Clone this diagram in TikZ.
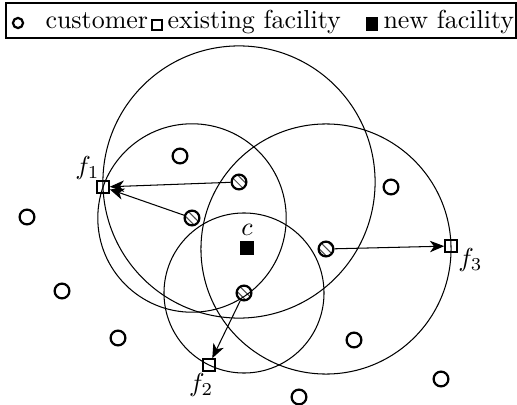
\documentclass[tikz,border=0pt]{standalone}
\usetikzlibrary{arrows.meta,calc,patterns}

\begin{document}
\begin{tikzpicture}[
    x=0.385pt, y=-0.385pt,
    customer/.style={circle, draw, line width=0.85pt, minimum size=5.7pt, inner sep=0pt},
    served customer/.style={customer, pattern=north west lines, pattern color=black!70},
    facility/.style={rectangle, draw, line width=0.8pt, minimum size=4.4pt, inner sep=0pt},
    new facility/.style={rectangle, draw, fill, minimum size=4.7pt, inner sep=0pt},
    coverage/.style={thin},
    assignment/.style={-{Stealth[length=5.5pt,width=4.4pt,inset=1.6pt]}, thin},
    legend text/.style={anchor=base west, inner sep=0pt}
]
\useasboundingbox (0,0) rectangle (517,405);

% Legend
\draw (6,3) rectangle (516,38);
\node[customer, minimum size=3.9pt] (lcust) at (18,23) {};
\node[legend text] (tcust) at (45,28) {customer};
\node[facility, minimum size=3.5pt] (lfac) at (157,25) {};
\node[legend text] (tfac) at (167,28) {existing facility};
\node[new facility, minimum width=3.9pt, minimum height=4.7pt] (lnew) at (372,24) {};
\node[legend text] (tnew) at (383,28) {new facility};

% Facilities
\node[facility, label={[inner sep=0pt, xshift=1.5pt]above left:$f_1$}] (f1) at (103,187) {};
\node[facility, label={[inner sep=0.5pt, xshift=-3pt]below:$f_2$}] (f2) at (209,365) {};
\node[facility, label={[inner sep=0pt, yshift=2pt]below right:$f_3$}] (f3) at (451,246) {};
\node[new facility, label={[inner sep=2pt]above:$c$}] (c) at (247,248) {};

% Customers served by c
\node[served customer] (h1) at (239,182) {};
\node[served customer] (h2) at (192,218) {};
\node[served customer] (h3) at (326,249) {};
\node[served customer] (h4) at (244,293) {};

% Other customers
\node[customer] (u1) at (180,156) {};
\node[customer] (u2) at (391,187) {};
\node[customer] (u3) at (27,217) {};
\node[customer] (u4) at (62,291) {};
\node[customer] (u5) at (118,338) {};
\node[customer] (u6) at (354,340) {};
\node[customer] (u7) at (441,379) {};
\node[customer] (u8) at (299,397) {};

% Circles through the current facility
\draw[coverage] let \p1=($(h1)-(f1)$), \n1={veclen(\x1,\y1)} in (h1) circle (\n1);
\draw[coverage] let \p1=($(h2)-(f1)$), \n1={veclen(\x1,\y1)} in (h2) circle (\n1);
\draw[coverage] let \p1=($(h3)-(f3)$), \n1={veclen(\x1,\y1)} in (h3) circle (\n1);
\draw[coverage] let \p1=($(h4)-(f2)$), \n1={veclen(\x1,\y1)} in (h4) circle (\n1);

% Assignments
\draw[assignment] (h1) -- (f1);
\draw[assignment] (h2) -- (f1);
\draw[assignment] (h3) -- (f3);
\draw[assignment] (h4) -- (f2);

\end{tikzpicture}
\end{document}
